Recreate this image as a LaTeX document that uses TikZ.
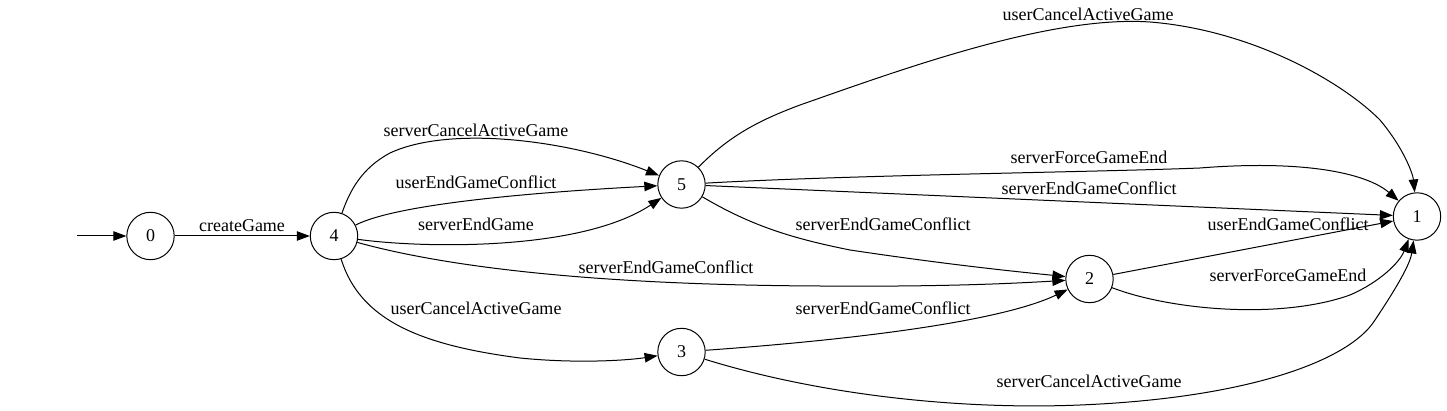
\documentclass[tikz,border=0pt]{standalone}
\usepackage{fontspec}
\setmainfont{Liberation Serif}
\usetikzlibrary{arrows.meta}
\begin{document}
\begin{tikzpicture}[x=1pt,y=-1pt,
  state/.style={circle,draw,line width=1pt,minimum size=47.4pt,inner sep=0pt,font=\fontsize{18}{18}\selectfont},
  edge/.style={line width=1pt,-{Triangle[length=13pt,width=9.5pt]}},
  lbl/.style={inner sep=0pt,font=\fontsize{18}{18}\selectfont}]
\useasboundingbox (0,0) rectangle (1447,411);
\node[state] (n0) at (150.5,236) {0};
\node[state] (n4) at (334,236) {4};
\node[state] (n5) at (681.5,184.5) {5};
\node[state] (n3) at (681.5,352) {3};
\node[state] (n2) at (1089.5,279) {2};
\node[state] (n1) at (1417,216.5) {1};
\coordinate (start) at (77,236);

\draw[edge] (start) -- (n0);
\draw[edge] (n0) -- (n4) node[lbl] (l1) at (242,226) {createGame};
\draw[edge] (n4) .. controls (350,190) and (362,168) .. (390,153)
  .. controls (450,125) and (570,140) .. (n5)
  node[lbl] (l2) at (476,130) {serverCancelActiveGame};
\draw[edge] (n4) .. controls (395,205) and (520,193) .. (n5)
  node[lbl] (l3) at (476,182) {userEndGameConflict};
\draw[edge] (n4) .. controls (420,248) and (580,252) .. (n5)
  node[lbl] (l4) at (476,224) {serverEndGame};
\draw[edge] (n4) .. controls (450,268) and (600,285) .. (820,286)
  .. controls (950,287) and (1020,283) .. (n2)
  node[lbl] (l5) at (666,267) {serverEndGameConflict};
\draw[edge] (n4) .. controls (360,320) and (420,345) .. (520,358)
  .. controls (580,364) and (630,360) .. (n3)
  node[lbl] (l6) at (476,308) {userCancelActiveGame};
\draw[edge] (n5) .. controls (730,135) and (760,120) .. (800,105)
  .. controls (900,70) and (1050,15) .. (1150,22)
  .. controls (1250,30) and (1340,80) .. (1380,120)
  .. controls (1405,150) and (1413,175) .. (n1)
  node[lbl] (l7) at (1088,14) {userCancelActiveGame};
\draw[edge] (n5) .. controls (850,175) and (1100,172) .. (1200,168)
  .. controls (1300,160) and (1365,172) .. (n1)
  node[lbl] (l8) at (1089,157) {serverForceGameEnd};
\draw[edge] (n5) -- (n1)
  node[lbl] (l9) at (1089,188) {serverEndGameConflict};
\draw[edge] (n5) .. controls (750,225) and (790,238) .. (850,250)
  .. controls (950,265) and (1020,272) .. (n2)
  node[lbl] (l10) at (883,224) {serverEndGameConflict};
\draw[edge] (n3) .. controls (850,340) and (1000,322) .. (n2)
  node[lbl] (l11) at (883,308) {serverEndGameConflict};
\draw[edge] (n3) .. controls (820,395) and (960,410) .. (1080,405)
  .. controls (1250,398) and (1350,360) .. (1375,320)
  .. controls (1395,290) and (1410,265) .. (n1)
  node[lbl] (l12) at (1089,381) {serverCancelActiveGame};
\draw[edge] (n2) -- (n1)
  node[lbl] (l13) at (1288,224) {userEndGameConflict};
\draw[edge] (n2) .. controls (1170,310) and (1280,320) .. (1350,295)
  .. controls (1380,282) and (1400,262) .. (n1)
  node[lbl] (l14) at (1288,275) {serverForceGameEnd};
\end{tikzpicture}
\end{document}
